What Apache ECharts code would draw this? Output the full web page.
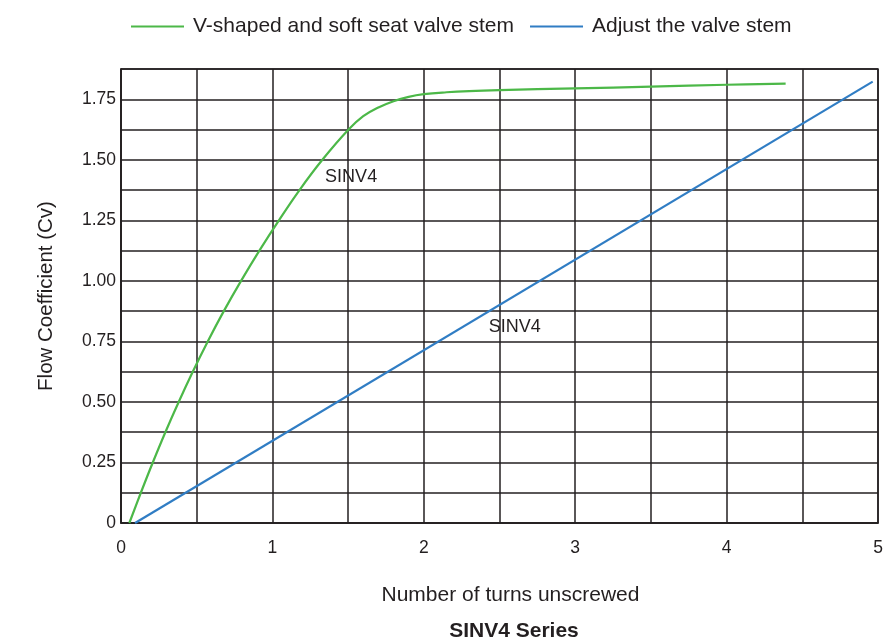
<!DOCTYPE html>
<html lang="en">
<head>
<meta charset="UTF-8">
<title>SINV4 Series</title>
<script src="https://cdn.jsdelivr.net/npm/echarts@6/dist/echarts.min.js"></script>
<style>
  html, body { margin: 0; padding: 0; background: #fff; }
  #chart { width: 896px; height: 639px; }
</style>
</head>
<body>
<div id="chart"></div>
<script>
// green curve: V-shaped and soft seat valve stem  [turns, Cv]
var vShapedTurns = [0.055, 0.131, 0.210, 0.293, 0.381, 0.474, 0.573, 0.679, 0.793, 0.914, 1.043, 1.179, 1.33, 1.503, 1.6, 1.7, 1.8, 1.9, 2.0, 2.15, 2.3, 2.5, 3.0, 3.5, 4.0, 4.39];
var vShapedCv    = [0, 0.125, 0.25, 0.375, 0.5, 0.625, 0.75, 0.875, 1.0, 1.125, 1.25, 1.375, 1.5, 1.625, 1.68, 1.716, 1.742, 1.76, 1.771, 1.779, 1.784, 1.788, 1.795, 1.802, 1.81, 1.815];
// blue line: Adjust the valve stem
var adjustTurns = [0.093, 4.965];
var adjustCv    = [0, 1.823];
// "SINV4" tags on the curves
var tagTurns = [1.52, 2.60];
var tagCv    = [1.43, 0.811];
var tagText  = ['SINV4', 'SINV4'];

var ink = '#231f20';
var font = 'Liberation Sans, Arial, sans-serif';

function pairs(xs, ys) {
  var out = [];
  for (var i = 0; i < xs.length; i++) out.push([xs[i], ys[i]]);
  return out;
}

var tags = [];
for (var i = 0; i < tagTurns.length; i++) {
  tags.push({ value: [tagTurns[i], tagCv[i]], name: tagText[i] });
}

var chart = echarts.init(document.getElementById('chart'));
chart.setOption({
  animation: false,
  textStyle: { fontFamily: font, color: ink },
  title: {
    text: 'SINV4 Series',
    left: 509, top: 616, textAlign: 'center',
    textStyle: { fontFamily: font, fontSize: 21, fontWeight: 'bold', color: ink }
  },
  legend: {
    left: 126, top: 11,
    itemWidth: 53, itemHeight: 2, itemGap: 16,
    icon: 'rect',
    data: ['V-shaped and soft seat valve stem', 'Adjust the valve stem'],
    textStyle: { fontFamily: font, fontSize: 21, color: ink, padding: [0, 0, 0, 4] }
  },
  grid: { left: 121, right: 18, top: 69, bottom: 116, show: true, borderColor: ink, borderWidth: 1.5 },
  xAxis: {
    type: 'value', min: 0, max: 5, interval: 0.5,
    name: 'Number of turns unscrewed',
    nameLocation: 'middle', nameGap: 62,
    nameTextStyle: { fontFamily: font, fontSize: 21, color: ink, padding: [0, 0, 0, 22] },
    axisLine: { show: true, lineStyle: { color: ink, width: 1.5 } },
    axisTick: { show: false },
    axisLabel: {
      fontFamily: font, fontSize: 17.5, color: ink, margin: 16,
      formatter: function (v) { return Number.isInteger(v) ? String(v) : ''; }
    },
    splitLine: { show: true, lineStyle: { color: ink, width: 1.5 } }
  },
  yAxis: {
    type: 'value', min: 0, max: 1.875, interval: 0.125,
    name: 'Flow Coefficient (Cv)',
    nameLocation: 'middle', nameGap: 64, nameRotate: 90,
    nameTextStyle: { fontFamily: font, fontSize: 20.5, color: ink },
    axisLine: { show: true, lineStyle: { color: ink, width: 1.5 } },
    axisTick: { show: false },
    axisLabel: {
      fontFamily: font, fontSize: 17.5, color: ink, margin: 5,
      formatter: function (v) {
        if (v === 0) return '0';
        return Math.round(v * 8) % 2 === 0 ? v.toFixed(2) : '';
      }
    },
    splitLine: { show: true, lineStyle: { color: ink, width: 1.5 } }
  },
  series: [
    {
      name: 'V-shaped and soft seat valve stem',
      type: 'line', smooth: 0.4, showSymbol: false,
      data: pairs(vShapedTurns, vShapedCv),
      lineStyle: { color: '#4cb848', width: 2.2 },
      itemStyle: { color: '#4cb848' }
    },
    {
      name: 'Adjust the valve stem',
      type: 'line', showSymbol: false,
      data: pairs(adjustTurns, adjustCv),
      lineStyle: { color: '#307dc4', width: 2.2 },
      itemStyle: { color: '#307dc4' }
    },
    {
      type: 'scatter', symbolSize: 0, silent: true,
      itemStyle: { opacity: 1 },
      data: tags,
      label: {
        show: true, position: 'inside',
        formatter: function (p) { return p.name; },
        fontFamily: font, fontSize: 18, color: ink, opacity: 1
      }
    }
  ]
});
</script>
</body>
</html>
